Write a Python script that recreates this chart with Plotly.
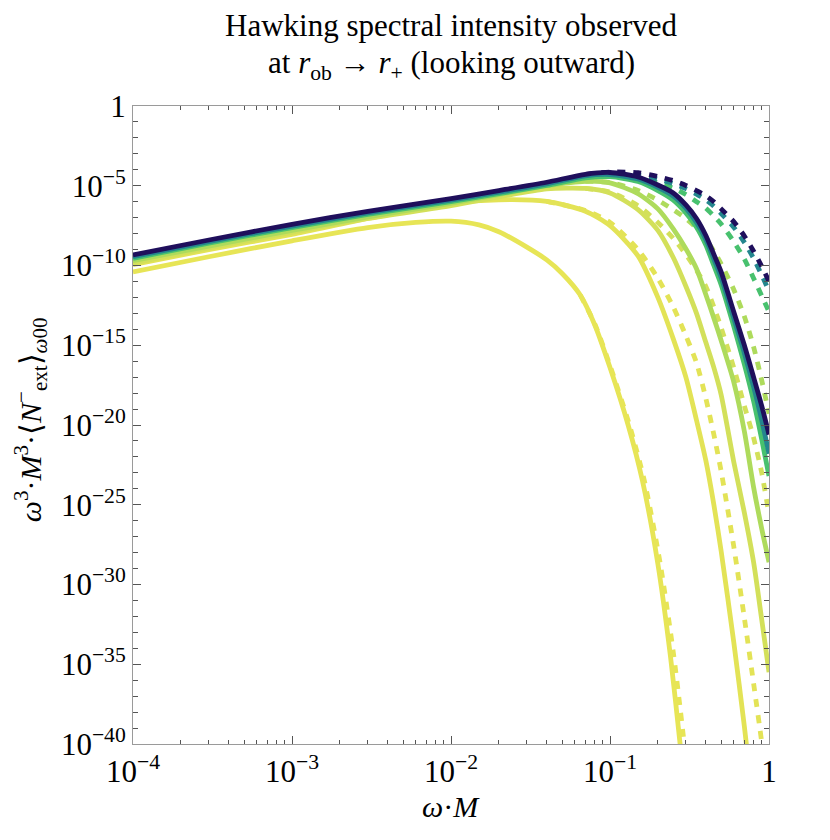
import plotly.graph_objects as go

# --- data (x = omega*M, values are log10 of the intensity)
w = [1e-4, 3e-4, 1e-3, 3e-3, 0.01, 0.02, 0.04, 0.07, 0.1, 0.15, 0.2,
     0.25, 0.3, 0.35, 0.4, 0.45, 0.5, 0.6, 0.7, 0.8, 0.9, 1.0]

# solid curves, darkest (navy) to lightest (yellow)
g_solid = [-9.34, -8.40, -7.42, -6.60, -5.80, -5.30, -4.78, -4.28, -4.17, -4.45, -4.95,
           -5.45, -6.2, -7.05, -8.1, -9.3, -10.4, -12.9, -15.0, -17.0, -18.8, -20.6]
f_solid = [-9.45, -8.5, -7.53, -6.7, -5.9, -5.4, -4.88, -4.38, -4.3, -4.58, -5.1,
           -5.65, -6.4, -7.3, -8.35, -9.6, -10.75, -13.3, -15.5, -17.6, -19.7, -21.8]
e_solid = [-9.55, -8.6, -7.62, -6.8, -6.0, -5.5, -4.98, -4.5, -4.43, -4.73, -5.3,
           -5.9, -6.7, -7.6, -8.7, -10.0, -11.2, -13.8, -16.2, -18.5, -20.9, -23.2]
d_solid = [-9.7, -8.78, -7.8, -6.95, -6.1, -5.55, -5.0, -4.72, -4.82, -5.5, -6.45,
           -7.7, -8.95, -10.2, -11.8, -13.3, -14.7, -17.3, -20.4, -23.9, -26.5, -28.6]
c_solid = [-9.85, -8.9, -7.92, -7.05, -6.25, -5.7, -5.2, -5.17, -5.45, -6.5, -7.8,
           -9.5, -11.3, -13.0, -14.8, -16.4, -18.1, -22.3, -25.5, -28.6, -32.2, -35.5]
b_solid = [-9.95, -9.0, -8.05, -7.05, -6.1, -5.88, -5.98, -6.6, -7.5, -9.4, -12.0,
           -14.6, -17.0, -19.7, -22.2, -25.0, -27.9, -33.6, -38.9, -44.0]

w_a = [1e-4, 3e-4, 1e-3, 3e-3, 0.006, 0.01, 0.015, 0.02, 0.03, 0.04,
       0.05, 0.065, 0.08, 0.1, 0.13, 0.16, 0.2, 0.24, 0.276, 0.3]
a_solid = [-10.4, -9.45, -8.45, -7.62, -7.3, -7.22, -7.45, -7.88, -8.85, -9.65,
           -10.5, -11.85, -13.7, -16.4, -20.0, -23.5, -28.7, -34.5, -40.0, -43.5]

# dashed curves
w_dash = [0.07, 0.1, 0.15, 0.2, 0.25, 0.3, 0.35, 0.4, 0.45, 0.5, 0.6, 0.7, 0.8, 0.9, 1.0]
g_dash = [-4.28, -4.14, -4.18, -4.42, -4.68, -4.98, -5.3, -5.62, -6.0, -6.45, -7.25, -8.15, -9.1, -10.05, -11.0]
f_dash = [-4.38, -4.25, -4.33, -4.58, -4.86, -5.18, -5.52, -5.88, -6.28, -6.74, -7.6, -8.55, -9.55, -10.6, -11.6]
e_dash = [-4.5, -4.4, -4.53, -4.82, -5.15, -5.55, -6.0, -6.4, -6.9, -7.4, -8.5, -9.6, -10.8, -11.9, -12.9]
d_dash = [-4.72, -4.8, -5.3, -5.9, -6.5, -7.05, -7.65, -8.35, -9.1, -9.9, -11.5, -13.2, -15.1, -17.2, -19.3]
c_dash = [-5.17, -5.4, -6.25, -7.3, -8.3, -9.3, -10.3, -11.3, -12.6, -13.9, -16.4, -18.8, -20.8, -23.0, -25.6]

w_b_dash = [0.04, 0.07, 0.1, 0.15, 0.2, 0.25, 0.3, 0.35, 0.4, 0.45, 0.5, 0.6, 0.7, 0.8, 0.9, 0.95]
b_dash = [-5.98, -6.55, -7.3, -9.0, -10.8, -12.6, -14.4, -16.1, -18.3, -20.6, -22.9, -27.6, -32.1, -36.2, -39.9, -42.0]

w_a_dash = [0.065, 0.0805, 0.101, 0.1325, 0.1645, 0.207, 0.252, 0.293, 0.315]
a_dash = [-11.85, -13.7, -16.4, -20.0, -23.5, -28.7, -34.5, -40.0, -43.0]

x_ticks = [1e-4, 1e-3, 1e-2, 1e-1, 1]
x_labels = ["10<sup>−4</sup>", "10<sup>−3</sup>", "10<sup>−2</sup>", "10<sup>−1</sup>", "1"]
y_exps = [0, -5, -10, -15, -20, -25, -30, -35, -40]

colors = {
    "g": "#1f0f5c", "f": "#24868e", "e": "#48c16e", "d": "#aedb5c",
    "c": "#d3e05a", "b": "#e3e356", "a": "#e7e556",
}

SERIF = "Liberation Serif"


def to_val(logs):
    return [10.0 ** v for v in logs]


fig = go.Figure()

# dashed first (they sit under the solid lines), yellow to navy
dashed = [(w_a_dash, a_dash, "a"), (w_b_dash, b_dash, "b"), (w_dash, c_dash, "c"),
          (w_dash, d_dash, "d"), (w_dash, e_dash, "e"), (w_dash, f_dash, "f"),
          (w_dash, g_dash, "g")]
for xs, ys, k in dashed:
    fig.add_trace(go.Scatter(x=xs, y=to_val(ys), mode="lines",
                             line=dict(color=colors[k], width=4.8, dash="8px,8px",
                                       shape="spline", smoothing=0.7),
                             showlegend=False, hoverinfo="skip"))

solids = [(w_a, a_solid, "a"), (w[:len(b_solid)], b_solid, "b"), (w, c_solid, "c"),
          (w, d_solid, "d"), (w, e_solid, "e"), (w, f_solid, "f"), (w, g_solid, "g")]
for xs, ys, k in solids:
    fig.add_trace(go.Scatter(x=xs, y=to_val(ys), mode="lines",
                             line=dict(color=colors[k], width=4.8,
                                       shape="spline", smoothing=0.7),
                             showlegend=False, hoverinfo="skip"))

minor_x = [m * 10.0 ** e for e in range(-4, 0) for m in range(2, 10)]
minor_y = [10.0 ** e for e in range(-40, 1) if e % 5 != 0]

axis_style = dict(showgrid=False, zeroline=False, showline=True, linecolor="#9a9a9a",
                  linewidth=1, mirror="ticks", ticks="inside", tickcolor="#555",
                  tickwidth=1, tickfont=dict(family=SERIF, size=31, color="black"))

fig.update_xaxes(type="log", range=[-4, 0], tickmode="array", tickvals=x_ticks,
                 ticktext=x_labels, ticklen=8,
                 minor=dict(tickmode="array", tickvals=minor_x, ticks="inside",
                            ticklen=4, tickcolor="#555", showgrid=False),
                 **axis_style)
fig.update_yaxes(type="log", range=[-40, 0], tickmode="array",
                 tickvals=[10.0 ** e for e in y_exps],
                 ticktext=["1"] + ["10<sup>−%d</sup>" % -e for e in y_exps[1:]],
                 ticklen=8,
                 minor=dict(tickmode="array", tickvals=minor_y, ticks="inside",
                            ticklen=5, tickcolor="#555", showgrid=False),
                 **axis_style)

# page has an 8px body margin, so the figure is shrunk by that much
fig.add_annotation(text="Hawking spectral intensity observed", x=0.5, y=1.126,
                   xref="paper", yref="paper", showarrow=False,
                   xanchor="center", yanchor="middle",
                   font=dict(family=SERIF, size=31, color="black"))
fig.add_annotation(text="at <i>r</i><sub>ob</sub> → <i>r</i><sub>+</sub> (looking outward)",
                   x=0.5, y=1.064, xref="paper", yref="paper", showarrow=False,
                   xanchor="center", yanchor="middle",
                   font=dict(family=SERIF, size=31, color="black"))
fig.add_annotation(text="<i>ω</i>·<i>M</i>", x=0.5, y=-0.098, xref="paper", yref="paper",
                   xanchor="center", yanchor="middle",
                   showarrow=False, font=dict(family=SERIF, size=30, color="black"))
fig.add_annotation(text="<i>ω</i><sup>3</sup>·<i>M</i><sup>3</sup>·⟨<i>N</i><sup>−</sup><sub>ext</sub>⟩<sub><i>ω</i>00</sub>",
                   x=-0.16, y=0.508, xref="paper", yref="paper", textangle=-90,
                   xanchor="center", yanchor="middle",
                   showarrow=False, font=dict(family=SERIF, size=30, color="black"))

fig.update_layout(width=814, height=824, plot_bgcolor="white", paper_bgcolor="white",
                  margin=dict(l=125, r=53, t=98, b=88))

fig.write_html("out.html")
